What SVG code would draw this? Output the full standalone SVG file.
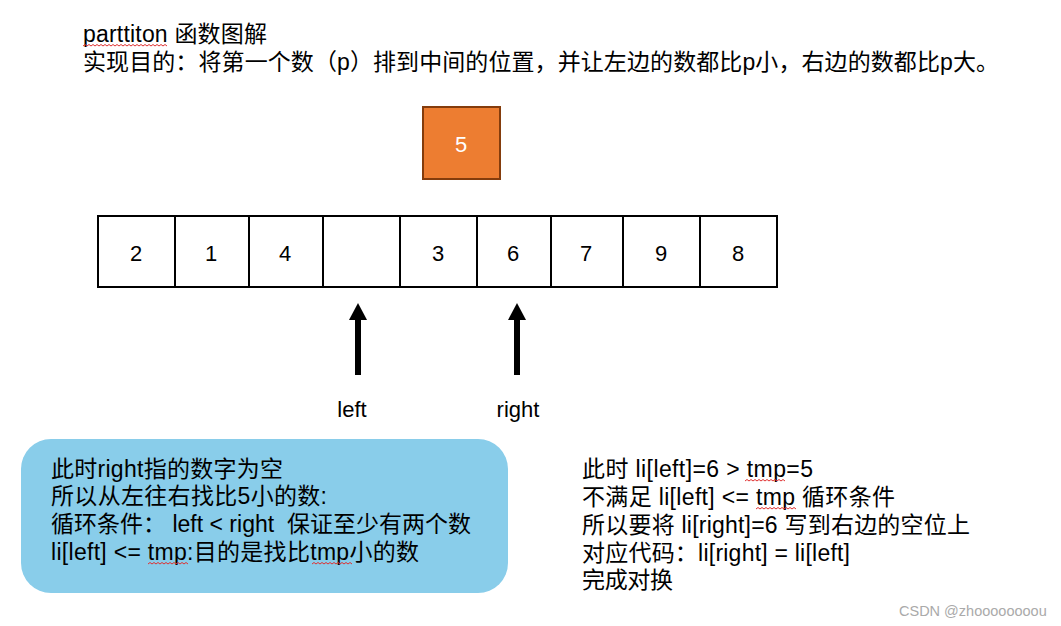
<svg xmlns="http://www.w3.org/2000/svg" width="1061" height="626" viewBox="0 0 1061 626">
<style>
text{font-family:"Liberation Sans","Noto Sans CJK SC",sans-serif;fill:#000}
.t{font-size:23px}
.d{font-size:22px;text-anchor:middle}
.cell{fill:#fff;stroke:#000;stroke-width:2}
.sq{fill:none;stroke:#e03030;stroke-width:1}
</style>
<defs>
<marker id="ah" viewBox="0 0 17 18" refX="1" refY="9" markerWidth="17" markerHeight="18" markerUnits="userSpaceOnUse" orient="auto">
<path d="M0,0 L17,9 L0,18 Z" fill="#000"/>
</marker>
<path id="wv" class="sq" d="M0,0 l2,-1.5 l2,1.5 l2,-1.5 l2,1.5 l2,-1.5 l2,1.5 l2,-1.5 l2,1.5 l2,-1.5 l2,1.5 l2,-1.5 l2,1.5 l2,-1.5 l2,1.5 l2,-1.5 l2,1.5 l2,-1.5 l2,1.5 l2,-1.5 l2,1.5"/>
</defs>
<rect width="1061" height="626" fill="#fff"/>
<g id="title">
<text class="t" x="83" y="42" textLength="184" lengthAdjust="spacing">parttiton 函数图解</text>
<text class="t" x="83" y="70" textLength="916" lengthAdjust="spacing">实现目的：将第一个数（p）排到中间的位置，并让左边的数都比p小，右边的数都比p大。</text>
<use href="#wv" x="83" y="46"/>
<use href="#wv" x="123" y="46"/>
<path class="sq" d="M163,46 l2,-1.5 l2,1.5"/>
</g>
<g id="pivot">
<rect x="423" y="107" width="77" height="72" fill="#ED7D31" stroke="#843C0C" stroke-width="2"/>
<text class="d" x="461" y="152" style="fill:#fff">5</text>
</g>
<g id="array">
<rect class="cell" x="98" y="216" width="77" height="71"/>
<rect class="cell" x="175" y="216" width="74" height="71"/>
<rect class="cell" x="249" y="216" width="74" height="71"/>
<rect class="cell" x="323" y="216" width="77" height="71"/>
<rect class="cell" x="400" y="216" width="77" height="71"/>
<rect class="cell" x="477" y="216" width="74" height="71"/>
<rect class="cell" x="551" y="216" width="72" height="71"/>
<rect class="cell" x="623" y="216" width="77" height="71"/>
<rect class="cell" x="700" y="216" width="77" height="71"/>
<text class="d" x="136" y="261">2</text>
<text class="d" x="211" y="261">1</text>
<text class="d" x="285" y="261">4</text>
<text class="d" x="438" y="261">3</text>
<text class="d" x="513" y="261">6</text>
<text class="d" x="586" y="261">7</text>
<text class="d" x="661" y="261">9</text>
<text class="d" x="738" y="261">8</text>
</g>
<g id="connectors">
<line x1="358" y1="375" x2="358" y2="319" stroke="#000" stroke-width="6" marker-end="url(#ah)"/>
<line x1="517" y1="375" x2="517" y2="319" stroke="#000" stroke-width="6" marker-end="url(#ah)"/>
</g>
<g id="labels">
<text class="d" x="352" y="417">left</text>
<text class="d" x="518" y="417">right</text>
</g>
<g id="note-left">
<rect x="21" y="439" width="487" height="154" rx="30" fill="#89CDEA"/>
<text class="t" x="51" y="477" textLength="232" lengthAdjust="spacing">此时right指的数字为空</text>
<text class="t" x="51" y="504" textLength="276" lengthAdjust="spacing">所以从左往右找比5小的数:</text>
<text class="t" x="51" y="532" textLength="420" lengthAdjust="spacing">循环条件：&#160;left &lt; right &#160;保证至少有两个数</text>
<text class="t" x="51" y="560" textLength="368" lengthAdjust="spacing">li[left] &lt;= tmp:目的是找比tmp小的数</text>
<use href="#wv" x="148" y="564"/>
<use href="#wv" x="312" y="564"/>
</g>
<g id="note-right">
<text class="t" x="582" y="477" textLength="231" lengthAdjust="spacing">此时 li[left]=6 &gt; tmp=5</text>
<text class="t" x="582" y="505" textLength="313" lengthAdjust="spacing">不满足 li[left] &lt;= tmp 循环条件</text>
<text class="t" x="582" y="533" textLength="388" lengthAdjust="spacing">所以要将 li[right]=6 写到右边的空位上</text>
<text class="t" x="582" y="561" textLength="268" lengthAdjust="spacing">对应代码：li[right] = li[left]</text>
<text class="t" x="582" y="588" textLength="91" lengthAdjust="spacing">完成对换</text>
<use href="#wv" x="745" y="481"/>
<use href="#wv" x="756" y="509"/>
</g>
<text x="899" y="616" style="font-size:14.5px;fill:#aaa">CSDN @zhoooooooou</text>
</svg>
